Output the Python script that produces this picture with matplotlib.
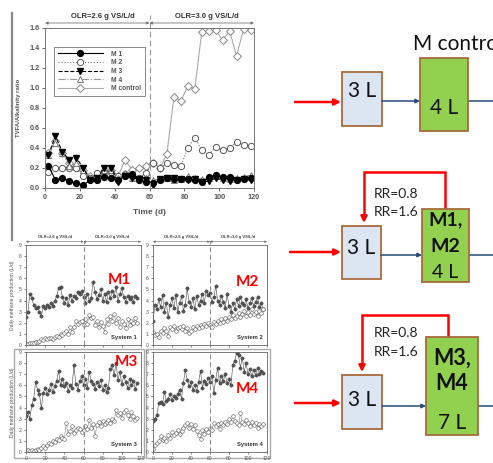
import matplotlib
matplotlib.use("Agg")
import matplotlib.pyplot as plt
from matplotlib.patches import Rectangle

W, H = 493, 463

# ---- top chart: TVFA / alkalinity ratio ----
days = [2, 6, 10, 14, 18, 22, 26, 30, 34, 38, 42, 46, 50, 54, 58,
        62, 66, 70, 74, 78, 82, 86, 90, 94, 98, 102, 106, 110, 114, 118]
m1 = [0.22, 0.08, 0.10, 0.07, 0.05, 0.03, 0.08, 0.08, 0.11, 0.10, 0.08, 0.12, 0.14, 0.08, 0.06,
      0.05, 0.08, 0.10, 0.09, 0.09, 0.09, 0.08, 0.06, 0.11, 0.13, 0.11, 0.11, 0.08, 0.09, 0.10]
m2 = [0.16, 0.20, 0.20, 0.20, 0.20, 0.12, 0.10, 0.15, 0.17, 0.16, 0.12, 0.14, 0.12, 0.10, 0.15,
      0.25, 0.20, 0.25, 0.23, 0.22, 0.40, 0.50, 0.38, 0.33, 0.41, 0.38, 0.40, 0.46, 0.43, 0.42]
m3 = [0.33, 0.52, 0.36, 0.28, 0.30, 0.20, 0.08, 0.10, 0.20, 0.20, 0.06, 0.12, 0.10, 0.09, 0.08,
      0.03, 0.09, 0.10, 0.10, 0.09, 0.08, 0.09, 0.06, 0.07, 0.10, 0.08, 0.07, 0.08, 0.09, 0.08]
m4 = [0.33, 0.45, 0.35, 0.22, 0.25, 0.18, 0.10, 0.10, 0.18, 0.18, 0.10, 0.15, 0.10, 0.10, 0.10,
      0.08, 0.09, 0.10, 0.08, 0.09, 0.12, 0.10, 0.09, 0.10, 0.12, 0.10, 0.09, 0.10, 0.11, 0.13]
mc = [0.35, 0.47, 0.35, 0.25, 0.22, 0.18, 0.12, 0.12, 0.15, 0.18, 0.12, 0.28, 0.18, 0.20, 0.22,
      0.25, 0.20, 0.34, 0.91, 0.87, 1.02, 0.99, 1.56, 1.57, 1.58, 1.48, 1.57, 1.32, 1.59, 1.58]
top_yticks = [0.0, 0.2, 0.4, 0.6, 0.8, 1.0, 1.2, 1.4, 1.6]
xticks = [0, 20, 40, 60, 80, 100, 120]

# ---- bottom panels: daily methane production (L/d) ----
d2 = list(range(0, 117, 2))
s1_f = [2.5, 3.0, 4.6, 4.2, 3.6, 3.3, 3.4, 3.0, 2.6, 3.5, 3.3, 3.6, 3.4, 3.8, 3.5, 4.0, 4.4, 5.1, 5.2, 4.3,
        3.8, 4.2, 3.6, 4.5, 4.0, 4.4, 4.2, 4.8, 4.6, 4.9, 4.3, 3.8, 4.6, 4.0, 4.2, 5.7, 4.8, 4.1, 4.5, 5.0,
        4.0, 4.6, 3.9, 4.8, 4.2, 4.9, 4.4, 5.2, 4.0, 4.6, 5.1, 4.3, 3.9, 4.4, 4.1, 4.3, 3.9, 4.4, 4.2]
s1_o = [0.1, 0.1, 0.15, 0.2, 0.2, 0.3, 0.3, 0.4, 0.5, 0.45, 0.6, 0.5, 0.6, 0.6, 0.5, 0.7, 0.8, 0.7, 1.0, 0.9,
        1.1, 1.3, 1.0, 1.6, 1.2, 1.6, 2.2, 1.9, 2.1, 2.2, 1.8, 2.3, 1.9, 2.7, 2.4, 2.5, 1.8, 2.2, 1.6, 2.1,
        1.7, 1.2, 2.3, 1.9, 2.6, 2.2, 2.8, 2.0, 2.4, 1.6, 2.2, 1.9, 1.5, 2.3, 1.8, 2.2, 2.0, 2.4, 2.0]
s2_f = [2.2, 3.6, 3.2, 4.1, 3.4, 4.5, 3.0, 3.8, 2.5, 3.6, 4.2, 3.3, 4.5, 3.0, 3.8, 4.4, 3.1, 3.6, 5.1, 3.9,
        3.4, 4.2, 3.2, 4.4, 3.6, 4.0, 4.6, 3.8, 4.9, 4.5, 4.7, 3.9, 4.3, 5.3, 4.0, 3.6, 4.4, 3.9, 3.3, 4.6,
        3.5, 3.0, 3.8, 3.2, 4.1, 3.5, 4.3, 3.8, 3.6, 4.1, 3.3, 3.8, 4.2, 3.5, 3.9, 4.3, 3.4, 3.8, 3.2]
s2_o = [1.2, 0.9, 1.0, 0.7, 1.3, 1.1, 1.5, 1.3, 0.8, 1.6, 1.4, 1.7, 1.3, 1.5, 1.6, 1.4, 1.7, 1.3, 1.5, 1.1,
        1.3, 1.6, 1.4, 1.7, 1.5, 1.8, 1.6, 1.9, 1.7, 2.0, 1.8, 1.6, 2.1, 1.9, 2.2, 2.0, 2.3, 2.1, 2.4, 2.2,
        2.5, 2.3, 2.7, 2.4, 2.6, 2.9, 2.5, 2.8, 3.1, 2.6, 3.0, 2.7, 3.2, 2.8, 3.0, 2.6, 3.1, 2.9, 3.2]
s3_f = [3.2, 3.6, 3.0, 4.2, 4.8, 6.3, 5.6, 5.2, 4.0, 5.3, 5.8, 5.2, 5.6, 6.1, 5.4, 5.9, 6.4, 7.3, 6.0, 6.6,
        5.9, 6.2, 5.5, 6.0, 5.8, 7.8, 6.1, 5.6, 6.4, 6.8, 6.0, 6.6, 5.8, 7.2, 6.4, 6.1, 5.7, 6.3, 5.9, 6.5,
        5.6, 6.0, 5.4, 5.8, 7.5, 7.8, 6.9, 8.0, 6.5, 7.2, 6.1, 6.8, 6.3, 5.8, 6.6, 6.0, 6.4, 5.7, 6.2]
s3_o = [0.2, 0.2, 0.1, 0.2, 0.1, 0.2, 0.3, 0.2, 0.4, 0.5, 0.4, 0.6, 0.8, 0.7, 1.0, 0.9, 1.2, 1.1, 1.4, 1.3,
        1.2, 2.6, 1.6, 1.9, 2.3, 1.7, 2.0, 2.2, 2.1, 1.8, 2.0, 2.3, 2.1, 2.9, 2.2, 2.5, 1.4, 2.4, 2.7, 2.3,
        2.8, 2.5, 2.7, 2.9, 2.6, 3.0, 2.8, 3.8, 3.3, 3.5, 3.1, 3.6, 3.8, 3.3, 3.0, 3.6, 3.2, 2.9, 3.1]
s4_f = [2.8, 3.0, 3.3, 4.4, 4.5, 4.3, 5.4, 4.6, 4.8, 5.2, 4.7, 5.0, 4.9, 5.2, 5.6, 4.8, 6.2, 7.4, 6.5, 5.9,
        6.3, 5.6, 6.0, 5.5, 6.3, 7.3, 5.8, 6.4, 6.1, 6.7, 6.3, 6.8, 5.3, 6.5, 7.6, 6.2, 6.8, 6.4, 7.0, 6.2,
        6.6, 6.0, 7.8, 8.2, 8.9, 8.7, 7.6, 8.5, 7.2, 8.0, 7.0, 7.5, 6.8, 7.4, 6.9, 7.6, 7.0, 7.3, 7.1]
s4_o = [0.3, 0.6, 0.8, 1.0, 1.4, 1.1, 1.3, 1.0, 1.5, 1.3, 1.8, 1.5, 1.7, 2.0, 1.6, 1.9, 2.2, 2.4, 2.6, 2.2,
        2.5, 2.1, 2.4, 1.9, 1.5, 1.2, 2.0, 1.6, 2.1, 1.8, 2.2, 2.0, 2.6, 2.3, 2.5, 2.1, 2.6, 2.4, 2.7, 2.5,
        3.0, 2.7, 3.2, 2.8, 2.6, 2.4, 3.5, 2.7, 2.5, 2.9, 2.6, 2.3, 2.7, 2.4, 2.6, 2.2, 2.5, 2.3, 2.5]
panel_ticks = list(range(10))

fig = plt.figure(figsize=(W / 100, H / 100), dpi=100)
plt.rcParams['font.family'] = ['Liberation Sans', 'DejaVu Sans']


def px_axes(l, t, r, b):
    return fig.add_axes([l / W, 1 - b / H, (r - l) / W, (b - t) / H])


# overlay for the diagram and loose lines, pixel coordinates
ov = fig.add_axes([0, 0, 1, 1], zorder=0)
ov.set_xlim(0, W)
ov.set_ylim(H, 0)
ov.axis("off")
ov.plot([12, 12], [13, 240], color="#888888", lw=1.6)

# ---------------- top chart ----------------
ax = px_axes(45, 28, 254, 188)
ax.set_zorder(2)
grey = "#555555"
ax.plot(days, mc, color="#aaaaaa", lw=0.8, marker="D", ms=4.5, mfc="white", mec="#888888", mew=0.7, label="M control")
ax.plot(days, m2, color="#777777", lw=0.8, ls=":", marker="o", ms=4.5, mfc="white", mec="#555555", mew=0.7, label="M 2")
ax.plot(days, m4, color="#999999", lw=0.8, ls="-.", marker="^", ms=4.5, mfc="white", mec="#777777", mew=0.7, label="M 4")
ax.plot(days, m3, color="black", lw=0.8, ls="--", marker="v", ms=4.5, mfc="black", mec="black", label="M 3")
ax.plot(days, m1, color="black", lw=0.8, marker="o", ms=4.2, mfc="black", mec="black", label="M 1")
ax.set_xlim(0, 120)
ax.set_ylim(0, 1.6)
ax.set_xticks(xticks)
ax.set_yticks(top_yticks)
ax.set_yticklabels([f"{v:.1f}" for v in top_yticks])
ax.tick_params(labelsize=5.2, colors=grey, length=2, width=0.6, pad=2)
for lab in ax.get_xticklabels() + ax.get_yticklabels():
    lab.set_fontweight("bold")
for s in ax.spines.values():
    s.set_color("#777777")
    s.set_linewidth(0.7)
ax.set_xlabel("Time (d)", fontsize=6, fontweight="bold", color=grey, labelpad=6)
ax.set_ylabel("TVFA/Alkalinity ratio", fontsize=4.3, fontweight="bold", color=grey, labelpad=6)
ax.axvline(60, ymin=0, ymax=1.08, color="#999999", lw=0.8, ls=(0, (5, 3)), clip_on=False)
for x0, x1, txt in [(0, 60, "OLR=2.6 g VS/L/d"), (60, 120, "OLR=3.0 g VS/L/d")]:
    ax.annotate("", xy=(x1, 1.65), xytext=(x0, 1.65), annotation_clip=False,
                arrowprops=dict(arrowstyle="<|-|>", color="#777777", lw=0.6, mutation_scale=4, shrinkA=0, shrinkB=0))
    ax.text((x0 + x1) / 2 + 3, 1.71, txt, fontsize=5.5, fontweight="bold", color="#333333",
            ha="center", va="center", clip_on=False)
h, l = ax.get_legend_handles_labels()
order = [4, 1, 3, 2, 0]
leg = ax.legend([h[i] for i in order], [l[i] for i in order], loc="upper left",
                bbox_to_anchor=(0.025, 0.905), fontsize=4.8, handlelength=6.8, labelspacing=0.25,
                fancybox=False, edgecolor="#888888", borderpad=0.6, handletextpad=1.2, framealpha=1)
leg.get_frame().set_linewidth(0.7)
for t in leg.get_texts():
    t.set_color(grey)
    t.set_fontweight("bold")

# ---------------- bottom panels ----------------
panels = [
    ((26, 245, 141, 345), s1_f, s1_o, "System 1", "M1", True, True, False),
    ((153, 245, 267, 345), s2_f, s2_o, "System 2", "M2", True, False, False),
    ((26, 352, 141, 452), s3_f, s3_o, "System 3", "M3", False, True, True),
    ((153, 352, 267, 452), s4_f, s4_o, "System 4", "M4", False, False, True),
]
red_pos = {"M1": (0.81, 0.65), "M2": (0.83, 0.63), "M3": (0.87, 0.9), "M4": (0.83, 0.63)}

for box in [(14, 349, 144, 458), (146, 349, 270, 458)]:
    ov.add_patch(Rectangle((box[0], box[1]), box[2] - box[0], box[3] - box[1],
                           fill=False, edgecolor="#aaaaaa", lw=1.0))

for (l, t, r, b), yf, yo, sysname, mlab, olr, ylab, xlab in panels:
    a = px_axes(l, t, r, b)
    a.set_zorder(2)
    a.plot(d2, yf, color="#444444", lw=0.4, marker="o", ms=2.4, mfc="#555555", mec="#333333", mew=0.3)
    a.plot(d2, yo, color="#888888", lw=0.4, marker="o", ms=2.6, mfc="white", mec="#555555", mew=0.4)
    a.set_xlim(0, 120)
    a.set_ylim(0, 9)
    a.set_xticks(xticks)
    a.set_yticks(panel_ticks)
    a.tick_params(labelsize=3.6, colors="#555555", length=1.5, width=0.5, pad=1.5)
    if not xlab:
        a.set_xticklabels([])
    for s in a.spines.values():
        s.set_color("#666666")
        s.set_linewidth(0.6)
    a.axvline(60, ymin=0, ymax=1.04 if olr else 1, color="#888888", lw=0.7, ls=(0, (5, 3)), clip_on=False)
    if olr:
        for x0, x1, txt in [(0, 60, "OLR=2.6 g VS/L/d"), (60, 120, "OLR=3.0 g VS/L/d")]:
            a.annotate("", xy=(x1, 9.3), xytext=(x0, 9.3), annotation_clip=False,
                       arrowprops=dict(arrowstyle="<|-|>", color="#666666", lw=0.4, mutation_scale=3, shrinkA=0, shrinkB=0))
            a.text((x0 + x1) / 2, 9.68, txt, fontsize=3.0, fontweight="bold", color="#444444",
                   ha="center", va="center", clip_on=False)
    if ylab:
        a.set_ylabel("Daily methane production (L/d)", fontsize=3.6, color="#555555", labelpad=3)
    a.text(0.96, 0.05, sysname, transform=a.transAxes, fontsize=4.2, fontweight="bold",
           color="#333333", ha="right", va="bottom")
    rx, ry = red_pos[mlab]
    a.text(rx, ry, mlab, transform=a.transAxes, fontsize=11, fontweight="bold", color="#ff0000",
           ha="center", va="center", family=["Lato", "DejaVu Sans"], zorder=5)

# ---------------- right diagram ----------------
dfont = ["Lato", "DejaVu Sans"]
red = "#ff0000"
navy = "#264b78"
brown = "#a86b3c"
blue_fill = "#dce6f2"
green_fill = "#92d050"


def box(x0, y0, x1, y1, fc):
    ov.add_patch(Rectangle((x0, y0), x1 - x0, y1 - y0, facecolor=fc, edgecolor=brown, lw=1.3, zorder=3))


def arrow(x0, y0, x1, y1, color, lw, ms):
    ov.annotate("", xy=(x1, y1), xytext=(x0, y0),
                arrowprops=dict(arrowstyle="-|>", color=color, lw=lw, mutation_scale=ms, shrinkA=0, shrinkB=0),
                zorder=4)


ov.text(413, 44, "M control", fontsize=15, family=dfont, ha="left", va="center", color="#111111")

rows = [
    # red in y, blue box, green box, flow y
    dict(blue=(342, 72, 382, 126), green=(420, 58, 468, 131), flow=101, inlet=102,
         btxt=91, gtxt=[("4 L", 108, 15, "normal")], loop=None),
    dict(blue=(342, 226, 381, 279), green=(422, 209, 469, 282), flow=255, inlet=252,
         btxt=248, gtxt=[("M1,", 220, 14, "bold"), ("M2", 247, 14, "bold"), ("4 L", 272, 14, "normal")],
         loop=(445, 172, 364, 223), rr=(194, 212)),
    dict(blue=(342, 375, 382, 429), green=(426, 337, 478, 435), flow=406, inlet=403,
         btxt=400, gtxt=[("M3,", 358, 15.5, "bold"), ("M4", 384, 15.5, "bold"), ("7 L", 423, 15, "normal")],
         loop=(448, 315, 362, 372), rr=(333, 352)),
]

for i, rw in enumerate(rows):
    bx0, by0, bx1, by1 = rw["blue"]
    gx0, gy0, gx1, gy1 = rw["green"]
    inlet_x0 = 290 if i == 1 else 295
    arrow(inlet_x0, rw["inlet"], bx0 - 1, rw["inlet"], red, 1.8, 9)
    arrow(bx1, rw["flow"], gx0, rw["flow"], navy, 1.1, 6)
    ov.plot([gx1, W], [rw["flow"], rw["flow"]], color=navy, lw=1.1, zorder=2)
    box(bx0, by0, bx1, by1, blue_fill)
    box(gx0, gy0, gx1, gy1, green_fill)
    ov.text((bx0 + bx1) / 2, rw["btxt"], "3 L", fontsize=15, family=dfont, ha="center", va="center",
            color="#111111", zorder=5)
    for txt, ty, fs, fw in rw["gtxt"]:
        ov.text((gx0 + gx1) / 2, ty, txt, fontsize=fs, fontweight=fw, family=dfont, ha="center",
                va="center", color="#111111", zorder=5)
    if rw["loop"]:
        lx, ly, rx2, ay = rw["loop"]
        ov.plot([lx, lx, rx2, rx2], [gy0, ly, ly, ay - 6], color=red, lw=1.8, zorder=2,
                solid_joinstyle="miter")
        arrow(rx2, ay - 8, rx2, ay, red, 1.8, 9)
        ov.text(374, rw["rr"][0], "RR=0.8", fontsize=10, family=dfont, ha="left", va="center", color="#222222")
        ov.text(374, rw["rr"][1], "RR=1.6", fontsize=10, family=dfont, ha="left", va="center", color="#222222")

fig.savefig("out.png", dpi=100)
